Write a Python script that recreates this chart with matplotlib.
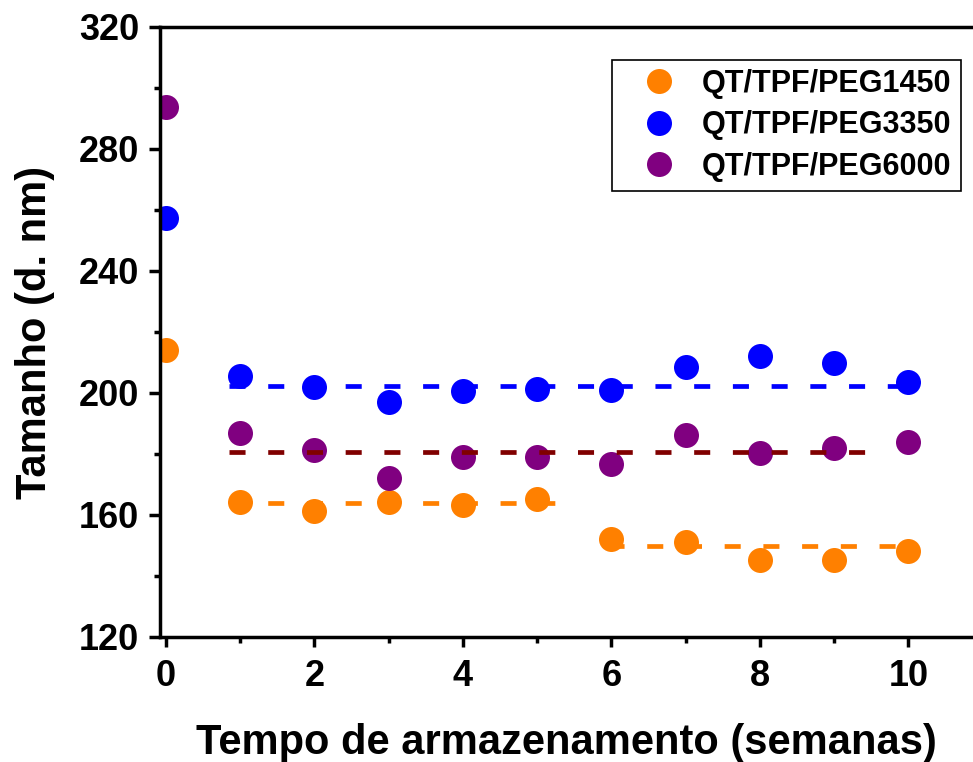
import matplotlib
matplotlib.use('Agg')
import matplotlib.pyplot as plt
from matplotlib.ticker import MultipleLocator

# storage time (weeks) and particle size (d. nm)
weeks = [0, 1, 2, 3, 4, 5, 6, 7, 8, 9, 10]
peg1450 = [214.1, 164.3, 161.2, 164.3, 163.2, 165.1, 152.2, 151.2, 145.2, 145.2, 148.2]
peg3350 = [257.3, 205.6, 202.1, 196.9, 200.7, 201.3, 201.0, 208.6, 212.2, 209.7, 203.7]
peg6000 = [293.9, 187.0, 181.3, 172.2, 179.0, 179.0, 176.6, 186.2, 180.2, 181.9, 183.8]
labels = ['QT/TPF/PEG1450', 'QT/TPF/PEG3350', 'QT/TPF/PEG6000']

# dashed mean levels: (x start, x end, level)
mean_3350 = [(0.85, 9.92, 202.4)]
mean_6000 = [(0.85, 9.45, 180.5)]
mean_1450 = [(0.85, 5.43, 163.8), (5.95, 9.92, 149.9)]

plt.rcParams['font.family'] = ['Liberation Sans', 'DejaVu Sans']
plt.rcParams['font.weight'] = 'bold'

fig = plt.figure(figsize=(9.73, 7.62), dpi=100)
ax = fig.add_axes([160 / 973, 1 - 637 / 762, 1 - 160 / 973, 610 / 762])

series = [(peg1450, '#ff8000'), (peg3350, '#0000ff'), (peg6000, '#800080')]
for (vals, col), lab in zip(series, labels):
    ax.plot(weeks, vals, 'o', color=col, markersize=18, markeredgewidth=0,
            label=lab, zorder=2)

lw = 3.4
dash = (0, (3.4, 4.8))
for segs, col in [(mean_3350, '#0000ff'), (mean_6000, '#800000'), (mean_1450, '#ff8000')]:
    for x0, x1, lev in segs:
        ax.plot([x0, x1], [lev, lev], linestyle=dash, color=col, lw=lw, zorder=3)

ax.set_xlim(-0.08, 10.87)
ax.set_ylim(120, 320)
ax.xaxis.set_major_locator(MultipleLocator(2))
ax.xaxis.set_minor_locator(MultipleLocator(1))
ax.yaxis.set_major_locator(MultipleLocator(40))
ax.yaxis.set_minor_locator(MultipleLocator(20))

for side in ['left', 'bottom', 'top']:
    ax.spines[side].set_linewidth(2.5)
ax.spines['right'].set_visible(False)

ax.tick_params(axis='both', which='major', direction='out', width=2.5, labelsize=26)
ax.tick_params(axis='y', which='major', length=8, pad=7)
ax.tick_params(axis='x', which='major', length=7, pad=9)
ax.tick_params(axis='both', which='minor', direction='out', width=2.5, length=4)
ax.tick_params(top=False, which='both')
for t in ax.get_xticklabels() + ax.get_yticklabels():
    t.set_fontweight('bold')

ax.set_xlabel('Tempo de armazenamento (semanas)', fontsize=30, fontweight='bold', labelpad=21)
ax.set_ylabel('Tamanho (d. nm)', fontsize=30, fontweight='bold', labelpad=17)

leg = ax.legend(loc='upper right', bbox_to_anchor=(0.985, 0.946), borderaxespad=0,
                prop={'size': 22, 'weight': 'bold'}, fancybox=False, framealpha=1,
                edgecolor='black', handlelength=2.5, handletextpad=0.15,
                labelspacing=0.37, borderpad=0.3, markerscale=1.0)
leg.get_frame().set_linewidth(1.2)

fig.savefig('out.png', dpi=100)
